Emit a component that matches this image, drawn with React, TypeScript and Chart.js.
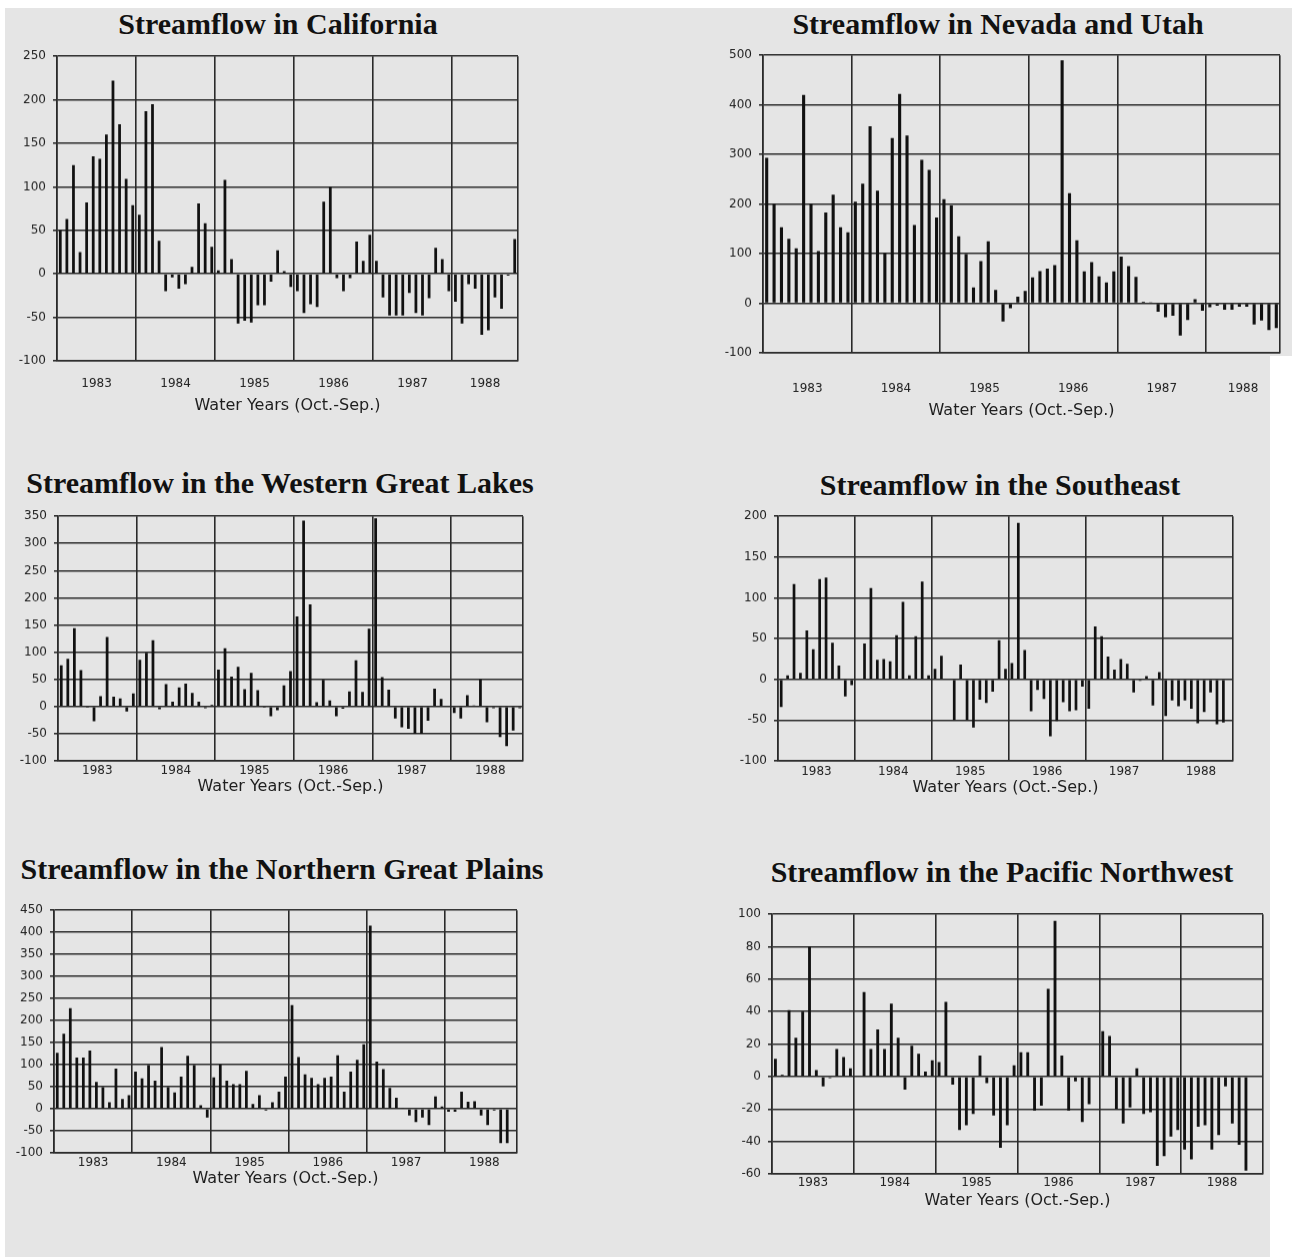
import React, { useEffect, useRef } from "react";
import { Chart, registerables } from "chart.js";

Chart.register(...registerables);

// ---- data (monthly streamflow departures, Oct 1982 onward) ----
const yearLabels = ["1983", "1984", "1985", "1986", "1987", "1988"];
const axisTitle = "Water Years (Oct.-Sep.)";

const californiaFlow: (number | null)[] = [
  50, 63, 125, 25, 82, 135, 132, 160, 222, 172, 109, 79,
  68, 187, 195, 38, -20, -4, -17, -12, 8, 81, 58, 31,
  4, 108, 17, -57, -54, -56, -36, -36, -9, 27, 3, -15,
  -20, -45, -35, -38, 83, 100, -5, -20, -5, 37, 15, 45,
  15, -27, -48, -48, -48, -22, -45, -48, -28, 30, 17, -20,
  -32, -57, -12, -17, -70, -65, -27, -40, -2, 40,
];

const nevadaUtahFlow: (number | null)[] = [
  293, 200, 153, 130, 111, 420, 200, 105, 183, 219, 153, 143,
  205, 241, 357, 227, 101, 333, 422, 338, 158, 289, 269, 173,
  210, 197, 135, 99, 32, 85, 125, 27, -37, -10, 13, 25,
  52, 65, 70, 77, 490, 222, 127, 64, 83, 54, 42, 64,
  94, 75, 53, 3, 1, -17, -28, -25, -65, -34, 8, -15,
  -8, -5, -13, -13, -7, -7, -43, -35, -54, -50,
];

const westernGreatLakesFlow: (number | null)[] = [
  76, 88, 144, 67, -2, -27, 19, 128, 18, 15, -9, 24,
  86, 99, 122, -5, 41, 9, 35, 42, 25, 9, -3, 3,
  68, 107, 55, 73, 32, 62, 30, -2, -18, -7, 39, 65,
  166, 342, 188, 8, 49, 11, -18, -4, 28, 85, 27, 143,
  346, 54, 31, -22, -38, -41, -50, -50, -26, 33, 14, 0,
  -12, -22, 21, 2, 50, -29, -3, -56, -73, -44, -3,
];

const southeastFlow: (number | null)[] = [
  -34, 5, 117, 8, 60, 37, 123, 125, 45, 17, -21, -7,
  1, 44, 112, 24, 25, 22, 54, 95, 5, 53, 120, 5,
  13, 29, 0, -50, 18, -50, -59, -25, -29, -15, 48, 13,
  20, 192, 36, -39, -13, -24, -70, -51, -28, -39, -38, -9,
  -36, 65, 53, 28, 12, 25, 19, -16, -2, 4, -32, 9,
  -45, -26, -33, -26, -36, -54, -40, -16, -55, -53, null,
];

const northernGreatPlainsFlow: (number | null)[] = [
  127, 170, 228, 116, 116, 132, 61, 49, 15, 91, 22, 31,
  84, 69, 99, 64, 140, 49, 37, 73, 120, 99, 8, -20,
  71, 100, 64, 56, 56, 86, 11, 31, -4, 15, 39, 73,
  235, 117, 78, 70, 56, 70, 73, 121, 39, 84, 111, 146,
  415, 107, 90, 47, 25, 1, -15, -30, -20, -37, 28, 5,
  -7, -7, 39, 16, 17, -15, -37, -4, -78, -78, null,
];

const pacificNorthwestFlow: (number | null)[] = [
  11, 1, 41, 24, 40, 80, 4, -6, -1, 17, 12, 5,
  0, 52, 17, 29, 17, 45, 24, -8, 19, 14, 3, 10,
  9, 46, -5, -33, -30, -23, 13, -4, -24, -44, -30, 7,
  15, 15, -21, -18, 54, 96, 13, -21, -3, -28, -17, 0,
  28, 25, -20, -29, -19, 5, -23, -22, -55, -49, -37, -33,
  -45, -51, -31, -30, -45, -36, -6, -29, -42, -58, null, null,
];

// ---- layout ----
type Panel = {
  title: string;
  values: (number | null)[];
  yMin: number;
  yMax: number;
  yStep: number;
  box: { l: number; t: number; r: number; b: number };
  titleX: number;
  titleY: number;
  yearY: number;
  axisTitleY: number;
};

const panels: Panel[] = [
  {
    title: "Streamflow in California",
    values: californiaFlow,
    yMin: -100, yMax: 250, yStep: 50,
    box: { l: 57, t: 52, r: 518, b: 360 },
    titleX: 278, titleY: 24, yearY: 383, axisTitleY: 405,
  },
  {
    title: "Streamflow in Nevada and Utah",
    values: nevadaUtahFlow,
    yMin: -100, yMax: 500, yStep: 100,
    box: { l: 763, t: 51, r: 1280, b: 352 },
    titleX: 998, titleY: 24, yearY: 388, axisTitleY: 410,
  },
  {
    title: "Streamflow in the Western Great Lakes",
    values: westernGreatLakesFlow,
    yMin: -100, yMax: 350, yStep: 50,
    box: { l: 58, t: 512, r: 523, b: 760 },
    titleX: 280, titleY: 483, yearY: 770, axisTitleY: 786,
  },
  {
    title: "Streamflow in the Southeast",
    values: southeastFlow,
    yMin: -100, yMax: 200, yStep: 50,
    box: { l: 778, t: 512, r: 1233, b: 760 },
    titleX: 1000, titleY: 485, yearY: 771, axisTitleY: 787,
  },
  {
    title: "Streamflow in the Northern Great Plains",
    values: northernGreatPlainsFlow,
    yMin: -100, yMax: 450, yStep: 50,
    box: { l: 54, t: 906, r: 517, b: 1152 },
    titleX: 282, titleY: 869, yearY: 1162, axisTitleY: 1178,
  },
  {
    title: "Streamflow in the Pacific Northwest",
    values: pacificNorthwestFlow,
    yMin: -60, yMax: 100, yStep: 20,
    box: { l: 772, t: 910, r: 1263, b: 1173 },
    titleX: 1002, titleY: 872, yearY: 1182, axisTitleY: 1200,
  },
];

const GRID = "#2a2a2a";
const INK = "#1e1e1e";
const SANS = "'DejaVu Sans', 'Liberation Sans', sans-serif";
const TICK_SIZE = 12;
const AXIS_TITLE_SIZE = 16;
const Y_AXIS_W = 54;
const PAD_TOP = 10;
const PAD_RIGHT = 6;

function PanelChart({ p }: { p: Panel }) {
  const ref = useRef<HTMLCanvasElement>(null);
  const n = p.values.length;
  const plotW = p.box.r - p.box.l;
  const plotH = p.box.b - p.box.t;
  const tickLH = TICK_SIZE * 1.2;
  const titleLH = AXIS_TITLE_SIZE * 1.2;
  const xAxisH = p.axisTitleY + titleLH / 2 + 1 - p.box.b;
  const width = plotW + Y_AXIS_W + PAD_RIGHT;
  const height = plotH + PAD_TOP + xAxisH;

  useEffect(() => {
    const monthW = plotW / n;
    const labelIdx = yearLabels.map((_, k) => {
      const m = Math.min(12, n - 12 * k);
      return 12 * k + Math.round(m / 2);
    });
    const chart = new Chart(ref.current as HTMLCanvasElement, {
      type: "bar",
      data: {
        labels: p.values.map((_, i) => String(i)),
        datasets: [
          {
            data: p.values,
            backgroundColor: "#111111",
            borderWidth: 0,
            barPercentage: 0.42,
            categoryPercentage: 1,
          },
        ],
      },
      options: {
        animation: false,
        responsive: true,
        maintainAspectRatio: false,
        layout: { padding: { top: PAD_TOP, right: PAD_RIGHT, left: 0, bottom: 0 } },
        plugins: { legend: { display: false }, tooltip: { enabled: false } },
        scales: {
          x: {
            grid: {
              offset: true,
              drawTicks: false,
              lineWidth: 1.6,
              color: (ctx: any) =>
                ctx.type !== "tick" || ctx.index % 12 === 0 ? GRID : "rgba(0,0,0,0)",
            },
            border: { display: true, color: GRID, width: 1.6 },
            ticks: {
              autoSkip: false,
              maxRotation: 0,
              minRotation: 0,
              padding: p.yearY - p.box.b - tickLH / 2,
              labelOffset: -monthW / 2,
              font: { family: SANS, size: TICK_SIZE },
              color: INK,
              callback: (_v: any, i: number) => {
                const k = labelIdx.indexOf(i);
                return k >= 0 ? yearLabels[k] : "";
              },
            },
            title: {
              display: true,
              text: axisTitle,
              font: { family: SANS, size: AXIS_TITLE_SIZE },
              color: INK,
              padding: { top: 0, bottom: 1 },
            },
            afterFit: (s: any) => {
              s.height = xAxisH;
              s.paddingLeft = 0;
              s.paddingRight = 0;
            },
          },
          y: {
            min: p.yMin,
            max: p.yMax,
            ticks: {
              stepSize: p.yStep,
              font: { family: SANS, size: TICK_SIZE },
              color: INK,
              padding: 7,
            },
            grid: { lineWidth: 1.6, color: GRID, drawTicks: true, tickLength: 4 },
            border: { display: true, color: GRID, width: 1.6 },
            afterFit: (s: any) => {
              s.width = Y_AXIS_W;
            },
          },
        },
      },
    } as any);
    return () => chart.destroy();
  }, []);

  return (
    <>
      <div
        style={{
          position: "absolute",
          left: p.titleX - 350,
          top: p.titleY - 17,
          width: 700,
          textAlign: "center",
          fontFamily: "'Liberation Serif', 'Times New Roman', serif",
          fontWeight: "bold",
          fontSize: 30,
          lineHeight: "34px",
          color: "#111",
          whiteSpace: "nowrap",
        }}
      >
        {p.title}
      </div>
      <div
        style={{
          position: "absolute",
          left: p.box.l - Y_AXIS_W,
          top: p.box.t - PAD_TOP,
          width,
          height,
        }}
      >
        <canvas ref={ref} />
      </div>
    </>
  );
}

export default function App() {
  return (
    <div
      style={{
        position: "absolute",
        left: 0,
        top: 0,
        width: 1304,
        height: 1257,
        background: "#ffffff",
        overflow: "hidden",
      }}
    >
      <div style={{ position: "absolute", left: 5, top: 8, width: 1265, height: 1249, background: "#e5e5e5" }} />
      <div style={{ position: "absolute", left: 1268, top: 8, width: 24, height: 348, background: "#e5e5e5" }} />
      {panels.map((p) => (
        <PanelChart key={p.title} p={p} />
      ))}
    </div>
  );
}
